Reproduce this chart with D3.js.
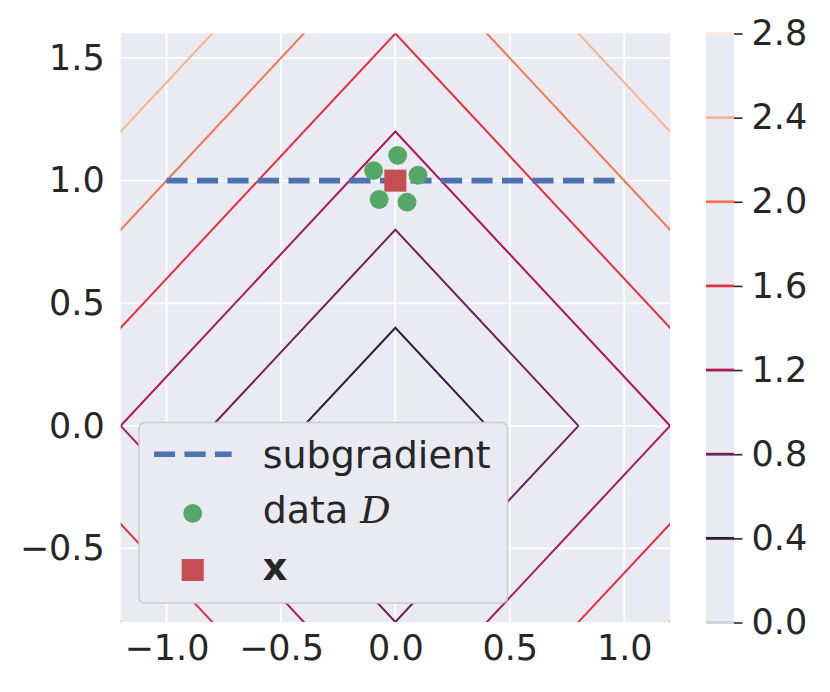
<!DOCTYPE html>
<html>
<head>
<meta charset="utf-8">
<script src="https://cdn.jsdelivr.net/npm/d3@7"></script>
<style>
  html, body { margin: 0; padding: 0; background: #ffffff; }
  svg { display: block; }
  text { font-family: "DejaVu Sans", sans-serif; fill: #262626; }
</style>
</head>
<body>
<svg id="chart" width="830" height="692"></svg>
<script>
// ---- data ----
const xTicks = [-1.0, -0.5, 0.0, 0.5, 1.0];
const yTicks = [-0.5, 0.0, 0.5, 1.0, 1.5];
const xDomain = [-1.2, 1.2];
const yDomain = [-0.8, 1.6];
const contourLevels = [0.0, 0.4, 0.8, 1.2, 1.6, 2.0, 2.4, 2.8];
const levelColors = ["#d2d2d8", "#35193e", "#701f57", "#ad1759", "#e13342", "#f37651", "#f6b48f", "#faebdd"];
const colorbarTicks = [0.0, 0.4, 0.8, 1.2, 1.6, 2.0, 2.4, 2.8];
const dataX = [-0.095, 0.010, 0.099, -0.071, 0.051];
const dataY = [1.041, 1.103, 1.022, 0.923, 0.912];
const pointX = [0.0];
const pointY = [1.0];
const subgradientX = [-1.0, 1.0];
const subgradientY = [1.0, 1.0];
const legendLabels = ["subgradient", "data ", "x"];

// ---- layout ----
const svg = d3.select("#chart");
const plot = { left: 120.7, right: 670, top: 33.5, bottom: 622 };
const x = d3.scaleLinear().domain(xDomain).range([plot.left, plot.right]);
const y = d3.scaleLinear().domain(yDomain).range([plot.bottom, plot.top]);
const bg = "#EAEAF2";
const tickFont = 35;

svg.append("defs").append("clipPath").attr("id", "clip")
  .append("rect").attr("x", plot.left).attr("y", plot.top)
  .attr("width", plot.right - plot.left).attr("height", plot.bottom - plot.top);

svg.append("rect").attr("x", plot.left).attr("y", plot.top)
  .attr("width", plot.right - plot.left).attr("height", plot.bottom - plot.top)
  .attr("fill", bg);

// grid
const grid = svg.append("g");
grid.selectAll("line.gx").data(xTicks).join("line")
  .attr("class", "gx")
  .attr("x1", d => x(d)).attr("x2", d => x(d))
  .attr("y1", plot.top).attr("y2", plot.bottom)
  .attr("stroke", "#ffffff").attr("stroke-width", 1.8);
grid.selectAll("line.gy").data(yTicks).join("line")
  .attr("class", "gy")
  .attr("y1", d => y(d)).attr("y2", d => y(d))
  .attr("x1", plot.left).attr("x2", plot.right)
  .attr("stroke", "#ffffff").attr("stroke-width", 1.8);

// contours: level sets |x|+|y| = c are diamonds
const clipped = svg.append("g").attr("clip-path", "url(#clip)");
const diamond = d3.line().x(d => x(d[0])).y(d => y(d[1]));
clipped.selectAll("path.contour")
  .data(contourLevels.map((c, i) => ({ c, color: levelColors[i] })).filter(d => d.c > 0))
  .join("path")
  .attr("class", "contour")
  .attr("d", d => diamond([[d.c, 0], [0, d.c], [-d.c, 0], [0, -d.c], [d.c, 0]]))
  .attr("fill", "none")
  .attr("stroke", d => d.color)
  .attr("stroke-width", 2);

// subgradient dashed line
const dash = "21.1,9.4";
clipped.append("path")
  .attr("d", d3.line().x(d => x(d[0])).y(d => y(d[1]))(subgradientX.map((v, i) => [v, subgradientY[i]])))
  .attr("fill", "none")
  .attr("stroke", "#4C72B0")
  .attr("stroke-width", 5.6)
  .attr("stroke-dasharray", dash);

// data points
clipped.selectAll("circle.data").data(dataX.map((v, i) => [v, dataY[i]])).join("circle")
  .attr("class", "data")
  .attr("cx", d => x(d[0])).attr("cy", d => y(d[1])).attr("r", 9.4)
  .attr("fill", "#55A868");

// x point
const sq = 22;
clipped.selectAll("rect.pt").data(pointX.map((v, i) => [v, pointY[i]])).join("rect")
  .attr("class", "pt")
  .attr("x", d => x(d[0]) - sq / 2).attr("y", d => y(d[1]) - sq / 2)
  .attr("width", sq).attr("height", sq)
  .attr("fill", "#C44E52");

// axes (no tick marks, seaborn darkgrid)
const fmt = d => d3.format(".1f")(d).replace("-", "\u2212");
const xAxis = svg.append("g").attr("transform", `translate(0,${plot.bottom})`)
  .call(d3.axisBottom(x).tickValues(xTicks).tickSize(0).tickPadding(13).tickFormat(fmt));
const yAxis = svg.append("g").attr("transform", `translate(${plot.left},0)`)
  .call(d3.axisLeft(y).tickValues(yTicks).tickSize(0).tickPadding(16).tickFormat(fmt));
[xAxis, yAxis].forEach(a => {
  a.select(".domain").remove();
  a.selectAll("text").attr("font-size", tickFont).attr("font-family", "DejaVu Sans").attr("fill", "#262626");
});

// legend
const lg = svg.append("g");
lg.append("rect").attr("x", 139).attr("y", 422.5).attr("width", 368.5).attr("height", 180.5)
  .attr("rx", 6).attr("fill", "#EAEAF2")
  .attr("stroke", "#cccccc").attr("stroke-width", 1.5);
lg.append("line").attr("x1", 154).attr("x2", 231.7).attr("y1", 454.3).attr("y2", 454.3)
  .attr("stroke", "#4C72B0").attr("stroke-width", 5.6).attr("stroke-dasharray", dash);
lg.append("circle").attr("cx", 192.7).attr("cy", 513.3).attr("r", 9.4).attr("fill", "#55A868");
lg.append("rect").attr("x", 181.7).attr("y", 559).attr("width", sq).attr("height", sq).attr("fill", "#C44E52");
const legFont = 38;
lg.append("text").attr("x", 262.7).attr("y", 468.3).attr("font-size", legFont).text(legendLabels[0]);
const t2 = lg.append("text").attr("x", 262.7).attr("y", 523.3).attr("font-size", legFont);
t2.append("tspan").text(legendLabels[1]);
t2.append("tspan").attr("font-family", "DejaVu Serif").attr("font-style", "italic").text("D");
lg.append("text").attr("x", 262.7).attr("y", 580).attr("font-size", legFont).attr("font-weight", "bold").text(legendLabels[2]);

// colorbar
const cb = { left: 706, right: 734, top: 33.5, bottom: 622.5 };
const cy = d3.scaleLinear().domain([0, 2.8]).range([cb.bottom, cb.top]);
svg.append("rect").attr("x", cb.left).attr("y", cb.top)
  .attr("width", cb.right - cb.left).attr("height", cb.bottom - cb.top).attr("fill", bg);
svg.append("g").selectAll("line").data(contourLevels.map((c, i) => ({ c, color: levelColors[i] }))).join("line")
  .attr("x1", cb.left).attr("x2", cb.right)
  .attr("y1", d => cy(d.c)).attr("y2", d => cy(d.c))
  .attr("stroke", d => d.color).attr("stroke-width", 2.8);
const cAxis = svg.append("g").attr("transform", `translate(${cb.right},0)`)
  .call(d3.axisRight(cy).tickValues(colorbarTicks).tickSize(8.5).tickPadding(9)
    .tickFormat(d3.format(".1f")));
cAxis.select(".domain").remove();
cAxis.selectAll("line").attr("stroke", "#262626").attr("stroke-width", 1.6);
cAxis.selectAll("text").attr("font-size", tickFont).attr("font-family", "DejaVu Sans").attr("fill", "#262626");
</script>
</body>
</html>
